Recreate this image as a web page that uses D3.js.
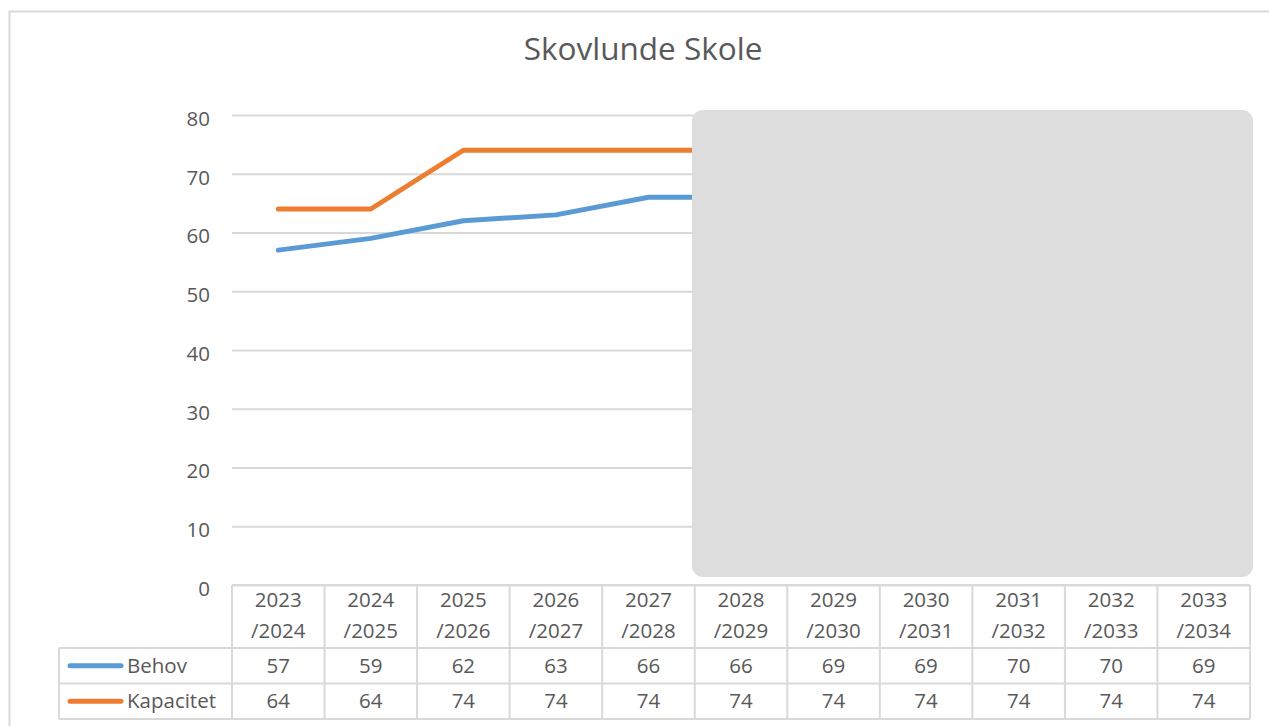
<!DOCTYPE html>
<html>
<head>
<meta charset="utf-8">
<script src="https://cdn.jsdelivr.net/npm/d3@7"></script>
<style>
  body { margin: 0; background: #fff; }
  svg { display: block; font-family: "Open Sans", "Noto Sans", sans-serif; }
</style>
</head>
<body>
<div id="chart"></div>
<script>
const title = "Skovlunde Skole";
const years = ["2023/2024", "2024/2025", "2025/2026", "2026/2027", "2027/2028", "2028/2029",
  "2029/2030", "2030/2031", "2031/2032", "2032/2033", "2033/2034"];
const behov = [57, 59, 62, 63, 66, 66, 69, 69, 70, 70, 69];
const kapacitet = [64, 64, 74, 74, 74, 74, 74, 74, 74, 74, 74];
const yTicks = [0, 10, 20, 30, 40, 50, 60, 70, 80];

const series = [
  {name: "Behov", values: behov, color: "#5b9bd5"},
  {name: "Kapacitet", values: kapacitet, color: "#ed7d31"}
];

const W = 1269, H = 726;
const plot = {left: 232, right: 1250, top: 115, bottom: 585};
const textColor = "#595959", gridColor = "#d9d9d9";
const fs = 20.5;

const svg = d3.select("#chart").append("svg")
  .attr("width", W)
  .attr("height", H);

// chart border
svg.append("rect")
  .attr("x", 9.5).attr("y", 11.5)
  .attr("width", W + 20).attr("height", H + 20)
  .attr("fill", "none").attr("stroke", gridColor).attr("stroke-width", 2);

svg.append("text")
  .attr("x", 643).attr("y", 60)
  .attr("text-anchor", "middle")
  .attr("font-size", 31.5)
  .attr("fill", textColor)
  .text(title);

const x = d3.scaleBand()
  .domain(years)
  .range([plot.left, plot.right]);

const y = d3.scaleLinear()
  .domain([0, 80])
  .range([plot.bottom, plot.top]);

// gridlines + y labels
const yAxis = d3.axisLeft(y)
  .tickValues(yTicks)
  .tickSize(plot.left - plot.right)
  .tickPadding(22);

const gy = svg.append("g")
  .attr("transform", "translate(" + plot.left + ",0)")
  .call(yAxis);
gy.select(".domain").remove();
gy.selectAll(".tick line").attr("stroke", gridColor).attr("stroke-width", 2);
gy.selectAll(".tick text")
  .attr("fill", textColor)
  .attr("font-size", fs)
  .attr("dy", "0.5em")
  .attr("font-family", "'Open Sans', 'Noto Sans', sans-serif");

// lines
const line = d3.line()
  .x((d, i) => x(years[i]) + x.bandwidth() / 2)
  .y(d => y(d));

series.forEach(s => {
  svg.append("path")
    .datum(s.values)
    .attr("d", line)
    .attr("fill", "none")
    .attr("stroke", s.color)
    .attr("stroke-width", 5)
    .attr("stroke-linecap", "round")
    .attr("stroke-linejoin", "round");
});

// grey overlay box
svg.append("rect")
  .attr("x", 692).attr("y", 110)
  .attr("width", 561).attr("height", 467)
  .attr("rx", 11)
  .attr("fill", "#dddddd");

// data table
const headTop = 585, headBot = 648, rowH = 35.5, legendLeft = 59;
const tbl = svg.append("g")
  .attr("stroke", gridColor).attr("stroke-width", 2).attr("fill", "none");

// horizontal lines
tbl.append("line").attr("x1", plot.left).attr("x2", plot.right).attr("y1", headTop).attr("y2", headTop);
[0, 1, 2].forEach(r => {
  tbl.append("line")
    .attr("x1", legendLeft).attr("x2", plot.right)
    .attr("y1", headBot + r * rowH).attr("y2", headBot + r * rowH);
});
// vertical lines
years.forEach(yr => {
  tbl.append("line")
    .attr("x1", x(yr)).attr("x2", x(yr))
    .attr("y1", headTop).attr("y2", headBot + 2 * rowH);
});
tbl.append("line").attr("x1", plot.right).attr("x2", plot.right).attr("y1", headTop).attr("y2", headBot + 2 * rowH);
tbl.append("line").attr("x1", legendLeft).attr("x2", legendLeft).attr("y1", headBot).attr("y2", headBot + 2 * rowH);

// header labels
const head = svg.append("g")
  .attr("fill", textColor)
  .attr("font-size", fs)
  .attr("text-anchor", "middle");
years.forEach(yr => {
  const parts = yr.split("/");
  const cx = x(yr) + x.bandwidth() / 2;
  head.append("text").attr("x", cx).attr("y", 607).text(parts[0]);
  head.append("text").attr("x", cx).attr("y", 638).text("/" + parts[1]);
});

// rows
series.forEach((s, r) => {
  const cy = headBot + r * rowH + rowH / 2;
  svg.append("line")
    .attr("x1", 70).attr("x2", 121)
    .attr("y1", cy).attr("y2", cy)
    .attr("stroke", s.color).attr("stroke-width", 5)
    .attr("stroke-linecap", "round");
  svg.append("text")
    .attr("x", 127).attr("y", cy + 7)
    .attr("fill", textColor).attr("font-size", fs)
    .text(s.name);
  s.values.forEach((v, i) => {
    svg.append("text")
      .attr("x", x(years[i]) + x.bandwidth() / 2)
      .attr("y", cy + 7)
      .attr("text-anchor", "middle")
      .attr("fill", textColor).attr("font-size", fs)
      .text(v);
  });
});
</script>
</body>
</html>
